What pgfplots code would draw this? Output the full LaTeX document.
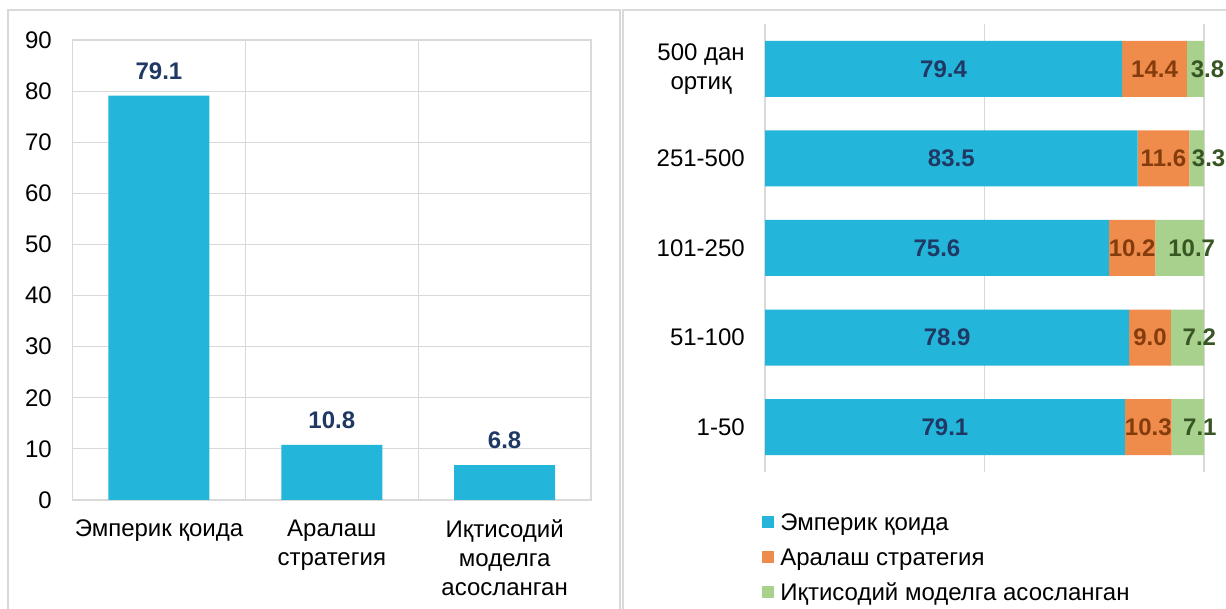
\documentclass[border=0pt]{standalone}
\usepackage{pgfplots}
\pgfplotsset{compat=1.18}
\usepackage{pgfplotstable}
\usepackage{fontspec}
\setmainfont{Liberation Sans}
\definecolor{cyanbar}{HTML}{24B6DA}
\definecolor{orangebar}{HTML}{F08C4B}
\definecolor{greenbar}{HTML}{A9D18E}
\definecolor{navylab}{HTML}{203864}
\definecolor{brownlab}{HTML}{843C0C}
\definecolor{greenlab}{HTML}{375623}
\definecolor{gridgray}{HTML}{D9D9D9}
\newcommand\lbl{\fontsize{18pt}{21.75pt}\selectfont}
\pgfplotstableread{
pos emp mix eco
0 79.1 10.3 7.1
1 78.9 9.0 7.2
2 75.6 10.2 10.7
3 83.5 11.6 3.3
4 79.4 14.4 3.8
}\sizes
\begin{document}
\begin{tikzpicture}
\path[use as bounding box] (0pt,0pt) rectangle (919.5pt,456.75pt);
\clip (0pt,0pt) rectangle (919.5pt,456.75pt);
\fill[white] (0pt,0pt) rectangle (919.5pt,456.75pt);
\draw[gridgray, line width=1.5pt] (6pt,-10pt) -- (6pt,449.5pt) -- (465pt,449.5pt) -- (465pt,-10pt);
\draw[gridgray, line width=1.5pt] (467.25pt,-10pt) -- (467.25pt,449.5pt) -- (940pt,449.5pt);

% left panel
\begin{axis}[
 at={(54.4pt,81.75pt)}, anchor=south west,
 scale only axis, width=388.9pt, height=345pt,
 xmin=-0.5, xmax=2.5, ymin=0, ymax=90,
 ybar, bar width=75.75pt,
 xtick={0,1,2},
 xticklabels={Эмперик қоида, {Аралаш\\стратегия}, {Иқтисодий\\моделга\\асосланган}},
 minor xtick={0.5,1.5},
 ytick={0,10,...,90},
 ymajorgrids, xminorgrids,
 grid style={gridgray, line width=0.9pt},
 minor grid style={gridgray, line width=0.9pt},
 axis line style={gridgray, line width=0.9pt},
 major tick length=0pt, minor tick length=0pt,
 tick style={draw=none},
 ticklabel style={font=\lbl, inner sep=0pt},
 xticklabel style={align=center, anchor=north, yshift=-14.5pt},
 yticklabel style={anchor=east, xshift=-15.4pt},
 /pgf/number format/assume math mode=true,
 nodes near coords={\pgfmathprintnumber[fixed,fixed zerofill,precision=1,assume math mode=true]{\pgfplotspointmeta}},
 every node near coord/.append style={font=\lbl\bfseries, text=navylab, anchor=south, inner sep=0pt, yshift=12pt},
]
\addplot[fill=cyanbar, draw=none] coordinates {(0,79.1) (1,10.8) (2,6.8)};
\end{axis}

% right panel
\begin{axis}[
 at={(573.75pt,102.75pt)}, anchor=south west,
 scale only axis, width=329.25pt, height=336pt,
 xbar stacked, bar width=42pt,
 xmin=0, xmax=100, ymin=-0.5, ymax=4.5,
 xtick={0,50,100}, xticklabels={},
 xmajorgrids, grid style={gridgray, line width=0.9pt},
 axis line style={draw=none},
 major tick length=0pt, tick style={draw=none},
 ytick={0,...,4},
 yticklabels={1-50,51-100,101-250,251-500,{500 дан\\ортиқ}},
 yticklabel style={font=\lbl, align=center, anchor=east, inner sep=0pt, xshift=-15pt},
 legend image code/.code={\path[#1, draw=none] (0pt,-4.5pt) rectangle (9pt,4.5pt);},
 legend cell align=left,
 legend style={at={(axis description cs:0,0)}, anchor=north west, xshift=-2.25pt, yshift=-29pt,
   draw=none, fill=none, inner sep=0pt, row sep=9.25pt, font=\lbl,
   nodes={inner sep=0pt, text height=14.95pt, text depth=2.05pt},
   /tikz/every odd column/.append style={column sep=4.5pt}},
]
\addplot[fill=cyanbar, draw=none] table[y=pos, x expr={100*\thisrow{emp}/(\thisrow{emp}+\thisrow{mix}+\thisrow{eco})}] {\sizes};
\addlegendentry{Эмперик қоида}
\addplot[fill=orangebar, draw=none] table[y=pos, x expr={100*\thisrow{mix}/(\thisrow{emp}+\thisrow{mix}+\thisrow{eco})}] {\sizes};
\addlegendentry{Аралаш стратегия}
\addplot[fill=greenbar, draw=none] table[y=pos, x expr={100*\thisrow{eco}/(\thisrow{emp}+\thisrow{mix}+\thisrow{eco})}] {\sizes};
\addlegendentry{Иқтисодий моделга асосланган}
\end{axis}

% right panel value labels
\begin{axis}[
 at={(573.75pt,102.75pt)}, anchor=south west,
 scale only axis, width=329.25pt, height=336pt,
 xmin=0, xmax=100, ymin=-0.5, ymax=4.5,
 hide axis, clip=false,
 nodes near coords, point meta=explicit symbolic,
 every node near coord/.append style={font=\lbl\bfseries, anchor=center, inner sep=0pt},
]
\addplot[draw=none, every node near coord/.append style={text=navylab}]
 table[y=pos, meta=emp, x expr={50*\thisrow{emp}/(\thisrow{emp}+\thisrow{mix}+\thisrow{eco})}] {\sizes};
\addplot[draw=none, every node near coord/.append style={text=brownlab}]
 table[y=pos, meta=mix, x expr={100*(\thisrow{emp}+0.5*\thisrow{mix})/(\thisrow{emp}+\thisrow{mix}+\thisrow{eco})}] {\sizes};
\addplot[draw=none, every node near coord/.append style={text=greenlab, xshift=9pt}]
 table[y=pos, meta=eco, x expr={100*(\thisrow{emp}+\thisrow{mix}+0.5*\thisrow{eco})/(\thisrow{emp}+\thisrow{mix}+\thisrow{eco})}] {\sizes};
\end{axis}
\end{tikzpicture}
\end{document}
